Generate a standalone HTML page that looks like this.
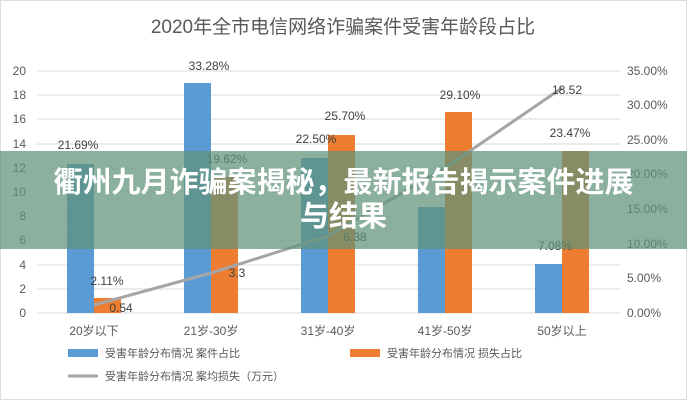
<!DOCTYPE html>
<html><head><meta charset="utf-8"><style>
body{margin:0;background:#fff;}
svg text{font-family:"Liberation Sans","Noto Sans CJK SC",sans-serif;}
.ban{position:absolute;left:0;top:151px;width:687px;height:98px;background:rgba(95,145,120,0.72);color:#fff;font:bold 29px "Liberation Sans","Noto Sans CJK SC",sans-serif;text-align:center;line-height:34px;padding-top:15px;box-sizing:border-box;}
</style></head><body>
<div style="position:relative;width:687px;height:400px;overflow:hidden">
<svg width="687" height="400" xmlns="http://www.w3.org/2000/svg">
<rect x="0.5" y="0.5" width="686" height="399" fill="#fff" stroke="#ddd"/>
<text x="343" y="33" font-size="19" fill="#595959" text-anchor="middle">2020年全市电信网络诈骗案件受害年龄段占比</text>
<g stroke="#d9d9d9" stroke-width="1">
<line x1="37" x2="620" y1="71" y2="71"/><line x1="37" x2="620" y1="95" y2="95"/><line x1="37" x2="620" y1="119" y2="119"/><line x1="37" x2="620" y1="144" y2="144"/><line x1="37" x2="620" y1="168" y2="168"/><line x1="37" x2="620" y1="192" y2="192"/><line x1="37" x2="620" y1="216" y2="216"/><line x1="37" x2="620" y1="240" y2="240"/><line x1="37" x2="620" y1="265" y2="265"/><line x1="37" x2="620" y1="289" y2="289"/><line x1="37" x2="620" y1="313" y2="313"/>
</g>
<g font-size="12" fill="#595959" text-anchor="end">
<text x="26" y="75">20</text><text x="26" y="99">18</text><text x="26" y="123">16</text><text x="26" y="148">14</text><text x="26" y="172">12</text><text x="26" y="196">10</text><text x="26" y="220">8</text><text x="26" y="244">6</text><text x="26" y="269">4</text><text x="26" y="293">2</text><text x="26" y="317">0</text>
</g>
<g font-size="12" fill="#595959">
<text x="627" y="75">35.00%</text><text x="627" y="109">30.00%</text><text x="627" y="144">25.00%</text><text x="627" y="178">20.00%</text><text x="627" y="213">15.00%</text><text x="627" y="248">10.00%</text><text x="627" y="282">5.00%</text><text x="627" y="317">0.00%</text>
</g>
<g fill="#5b9bd5">
<rect x="67" y="164" width="27" height="149"/><rect x="184" y="83" width="27" height="230"/><rect x="301" y="158" width="27" height="155"/><rect x="418" y="207" width="27" height="106"/><rect x="535" y="264" width="27" height="49"/>
</g>
<g fill="#ed7d31">
<rect x="94" y="298" width="27" height="15"/><rect x="211" y="177" width="27" height="136"/><rect x="328" y="135" width="27" height="178"/><rect x="445" y="112" width="27" height="201"/><rect x="562" y="151" width="27" height="162"/>
</g>
<polyline points="94,305 211,273 328,236 445,168 562,88" fill="none" stroke="#a5a5a5" stroke-width="3"/>
<g font-size="12" fill="#404040" text-anchor="middle">
<text x="78" y="149">21.69%</text><text x="209" y="70">33.28%</text><text x="316" y="143">22.50%</text><text x="345" y="120">25.70%</text><text x="460" y="99">29.10%</text><text x="570" y="137">23.47%</text><text x="227" y="163">19.62%</text><text x="107" y="285">2.11%</text><text x="121" y="312">0.54</text><text x="237" y="277">3.3</text><text x="355" y="241">6.38</text><text x="567" y="94">18.52</text><text x="555" y="250">7.08%</text>
</g>
<g font-size="12" fill="#595959" text-anchor="middle">
<text x="94" y="335">20岁以下</text><text x="211" y="335">21岁-30岁</text><text x="328" y="335">31岁-40岁</text><text x="445" y="335">41岁-50岁</text><text x="562" y="335">50岁以上</text>
</g>
<rect x="68" y="349" width="30" height="8" fill="#5b9bd5"/>
<text x="105" y="357" font-size="11" fill="#595959">受害年龄分布情况 案件占比</text>
<rect x="350" y="349" width="30" height="8" fill="#ed7d31"/>
<text x="387" y="357" font-size="11" fill="#595959">受害年龄分布情况 损失占比</text>
<line x1="68" y1="376" x2="98" y2="376" stroke="#a5a5a5" stroke-width="3"/>
<text x="105" y="380" font-size="11" fill="#595959">受害年龄分布情况 案均损失（万元）</text>
</svg>
<div class="ban">衢州九月诈骗案揭秘，最新报告揭示案件进展<br>与结果</div>
</div>
</body></html>
